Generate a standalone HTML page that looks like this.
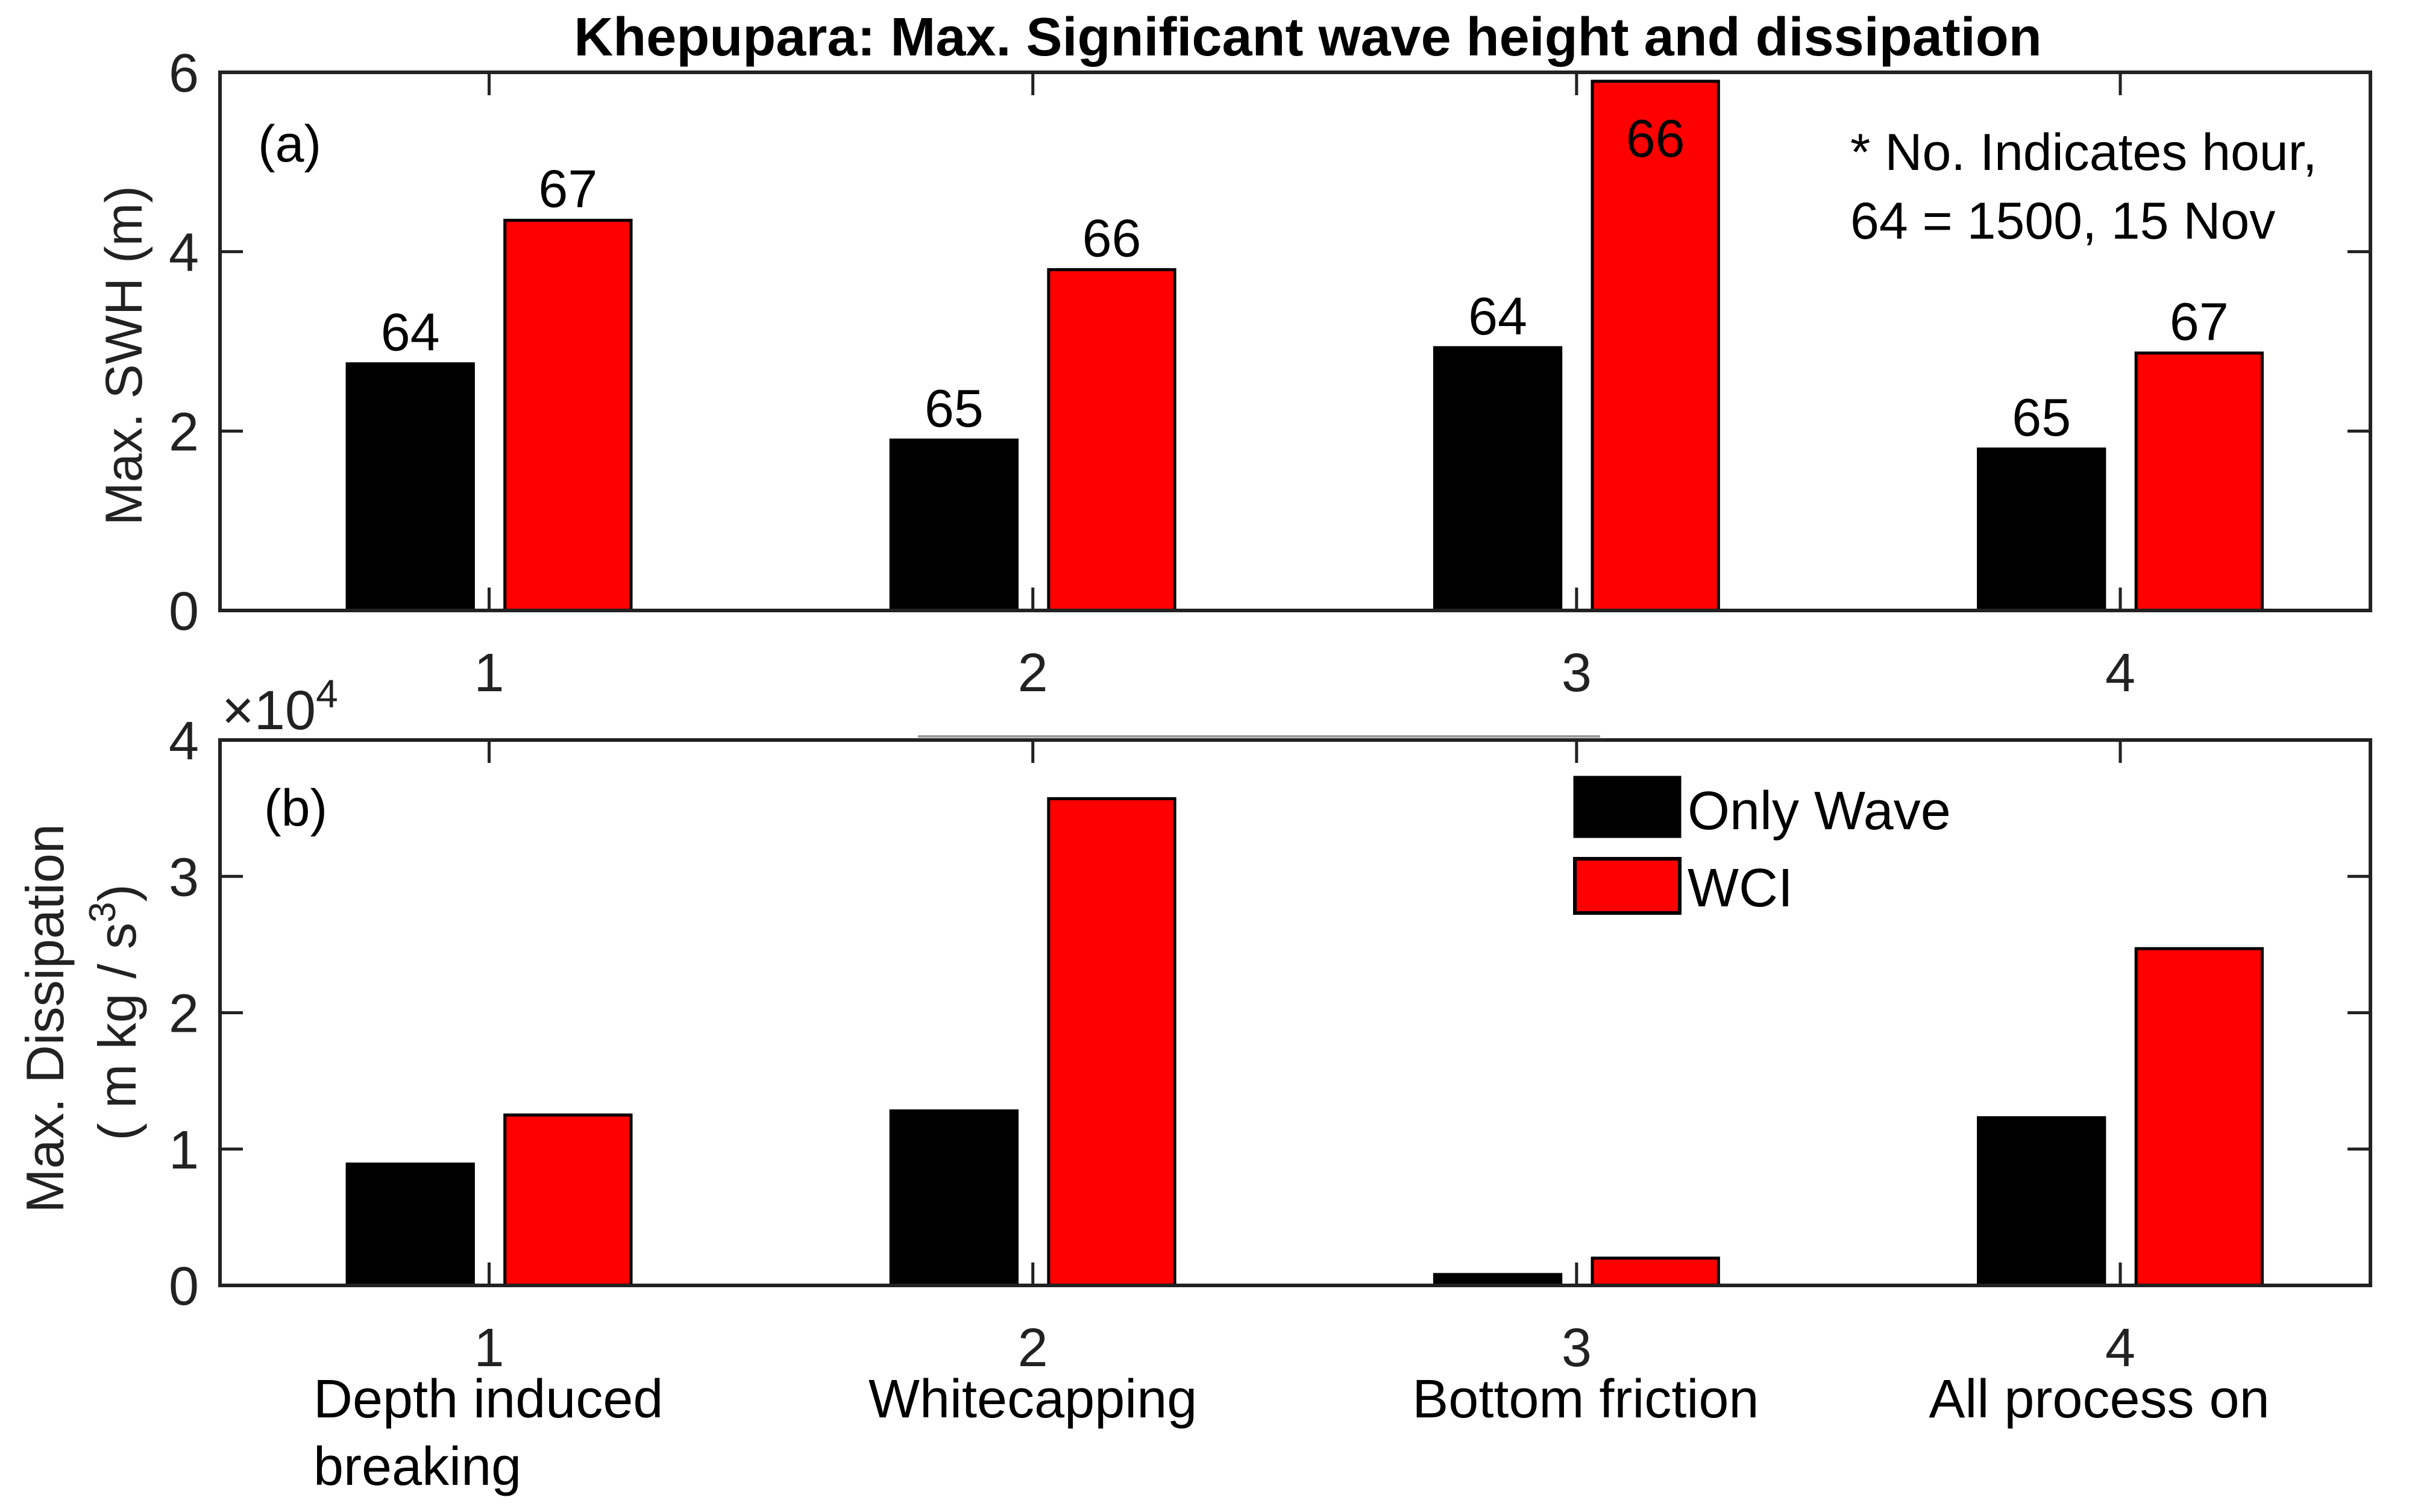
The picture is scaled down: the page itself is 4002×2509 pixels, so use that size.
<!DOCTYPE html>
<html><head><meta charset="utf-8"><style>
html,body{margin:0;padding:0;background:#fff;}
svg{display:block;font-family:"Liberation Sans",Arial,sans-serif;}
</style></head><body>
<svg id="chart" width="4002" height="2509" viewBox="0 0 4002 2509" xmlns="http://www.w3.org/2000/svg">
<text x="2170" y="92" font-size="90" font-weight="bold" text-anchor="middle">Khepupara: Max. Significant wave height and dissipation</text>
<g id="pa"></g>
<g id="pb"></g>
</svg>
<script>
const categories = [1, 2, 3, 4];
const categoryNames = [["Depth induced", "breaking"], ["Whitecapping"], ["Bottom friction"], ["All process on"]];
const swhOnlyWave = [2.75, 1.9, 2.93, 1.8];
const swhWCI = [4.35, 3.8, 5.9, 2.87];
const hourOnlyWave = ["64", "65", "64", "65"];
const hourWCI = ["67", "66", "66", "67"];
const dissOnlyWave = [0.89, 1.28, 0.08, 1.23];
const dissWCI = [1.25, 3.57, 0.2, 2.47];
const swhTicks = [0, 2, 4, 6];
const dissTicks = [0, 1, 2, 3, 4];

const NS = "http://www.w3.org/2000/svg";
function mk(parent, tag, attrs, text) {
  const e = document.createElementNS(NS, tag);
  for (const k in attrs) e.setAttribute(k, attrs[k]);
  if (text !== undefined) e.textContent = text;
  parent.appendChild(e);
  return e;
}
const L = 365, R = 3933;
const X0 = 0.505, X1 = 4.46;
function xs(v) { return L + (v - X0) / (X1 - X0) * (R - L); }
const OFF = 0.145, BW = 0.232;

function panel(g, top, bot, ymax, ticks, s1, s2, lab1, lab2, insideIdx) {
  const ys = v => bot - v / ymax * (bot - top);
  const w = xs(BW) - xs(0);
  categories.forEach((c, i) => {
    const x1 = xs(c - OFF) - w / 2;
    const b = mk(g, "rect", {x: x1, y: ys(s1[i]), width: w, height: ys(0) - ys(s1[i]), fill: "#000", stroke: "#000", "stroke-width": 5});
    
    
    const x2 = xs(c + OFF) - w / 2;
    const r = mk(g, "rect", {x: x2, y: ys(s2[i]), width: w, height: ys(0) - ys(s2[i]), fill: "#ff0000", stroke: "#000", "stroke-width": 5});
    
    
    if (lab1) {
      const t = mk(g, "text", {x: xs(c - OFF), y: ys(s1[i]) - 22, "font-size": 88, "text-anchor": "middle"}, lab1[i]);
      
      
      const inside = i === insideIdx;
      const t2 = mk(g, "text", {x: xs(c + OFF), y: inside ? ys(s2[i]) + 125 : ys(s2[i]) - 22, "font-size": 88, "text-anchor": "middle"}, lab2[i]);
      
      
    }
    const tk1 = mk(g, "line", {x1: xs(c), x2: xs(c), y1: bot, y2: bot - 38, stroke: "#222", "stroke-width": 5});
    
    
    const tk2 = mk(g, "line", {x1: xs(c), x2: xs(c), y1: top, y2: top + 38, stroke: "#222", "stroke-width": 5});
    
    
    const tl = mk(g, "text", {x: xs(c), y: bot + 134, "font-size": 90, "text-anchor": "middle", fill: "#222"}, String(c));
    
    
  });
  ticks.forEach(v => {
    const y = ys(v);
    const a = mk(g, "line", {x1: L, x2: L + 38, y1: y, y2: y, stroke: "#222", "stroke-width": 5});
    
    
    const b = mk(g, "line", {x1: R, x2: R - 38, y1: y, y2: y, stroke: "#222", "stroke-width": 5});
    
    
    const t = mk(g, "text", {x: 330, y: y + 32, "font-size": 90, "text-anchor": "end", fill: "#222"}, String(v));
    
    
  });
  const box = mk(g, "rect", {x: L, y: top, width: R - L, height: bot - top, fill: "none", stroke: "#222", "stroke-width": 6});
  
  
}
const pa = document.getElementById("pa"), pb = document.getElementById("pb");
panel(pa, 120, 1013, 6, swhTicks, swhOnlyWave, swhWCI, hourOnlyWave, hourWCI, 2);
panel(pb, 1228, 2133, 4, dissTicks, dissOnlyWave, dissWCI, null, null, -1);

function txt(g, attrs, s, name) {
  const t = mk(g, "text", attrs, s);
  
  
  return t;
}
txt(pa, {x: 428, y: 268, "font-size": 86}, "(a)", "panel-label-a");
txt(pb, {x: 438, y: 1370, "font-size": 86}, "(b)", "panel-label-b");
txt(pa, {x: 3070, y: 282, "font-size": 86}, "* No. Indicates hour,", "annotation-line-1");
txt(pa, {x: 3070, y: 396, "font-size": 86}, "64 = 1500, 15 Nov", "annotation-line-2");
txt(pa, {x: 0, y: 0, "font-size": 86, "text-anchor": "middle", transform: "translate(235,590) rotate(-90)", fill: "#222"}, "Max. SWH (m)", "y-axis-title-a");
txt(pb, {x: 0, y: 0, "font-size": 88, "text-anchor": "middle", transform: "translate(105,1690) rotate(-90)", fill: "#222"}, "Max. Dissipation", "y-axis-title-b");
const u = txt(pb, {x: 0, y: 0, "font-size": 88, "text-anchor": "middle", transform: "translate(225,1680) rotate(-90)", fill: "#222"}, "", "y-axis-units-b");
u.innerHTML = '( m kg / s<tspan dy="-34" font-size="62">3</tspan><tspan dy="34">)</tspan>';
const ex = txt(pb, {x: 368, y: 1210, "font-size": 92, fill: "#222"}, "", "y-exponent");
ex.innerHTML = '×10<tspan dy="-36" font-size="66">4</tspan>';
categoryNames.forEach((lines, i) => {
  lines.forEach((ln, j) => {
    const a = {y: 2352 + j * 112, "font-size": 90};
    if (i === 0) { a.x = 520; } else { a.x = xs(categories[i]) + (i === 3 ? -35 : 0) + (i === 2 ? 15 : 0); a["text-anchor"] = "middle"; }
    txt(pb, a, ln, "category-label-" + categories[i]);
  });
});
const lg = mk(pb, "g", {});


const s1 = mk(lg, "rect", {x: 2613, y: 1290, width: 174, height: 98, fill: "#000", stroke: "#000", "stroke-width": 5});


const s2 = mk(lg, "rect", {x: 2613, y: 1425, width: 174, height: 90, fill: "#ff0000", stroke: "#000", "stroke-width": 6});


txt(lg, {x: 2800, y: 1376, "font-size": 90}, "Only Wave", "legend-entry-only-wave");
txt(lg, {x: 2800, y: 1504, "font-size": 90}, "WCI", "legend-entry-wci");
const gl = mk(pb, "line", {x1: 1523, x2: 2655, y1: 1222, y2: 1222, stroke: "#999", "stroke-width": 4});


</script>
</body></html>
